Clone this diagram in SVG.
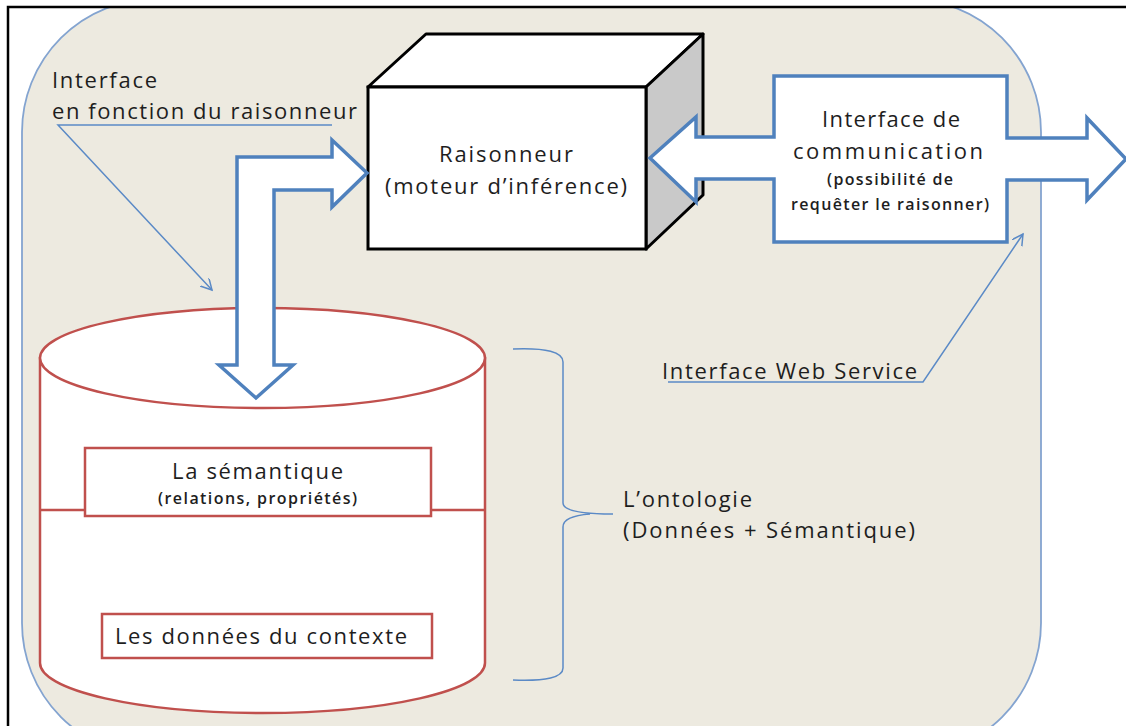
<svg xmlns="http://www.w3.org/2000/svg" width="1126" height="726" viewBox="0 0 1126 726">
<style>
text{font-family:"Open Sans","Liberation Sans",sans-serif;fill:#1e1e1e;}
.t{font-size:22px;}
.s{font-size:16px;font-weight:600;}
.thick{fill:#fff;stroke:#4F81BD;stroke-width:3.5;stroke-linejoin:miter;}
.red{fill:#fff;stroke:#C0504D;stroke-width:2.5;}
.call{fill:none;stroke:#5B8AC6;stroke-width:1.5;}
</style>
<defs>
<marker id="ah" markerUnits="userSpaceOnUse" markerWidth="14" markerHeight="14" refX="11" refY="6" orient="auto">
<path d="M0,0 L11,6 L0,12" fill="none" stroke="#5B8AC6" stroke-width="1.5"/>
</marker>
</defs>
<rect x="0" y="0" width="1126" height="726" fill="#fff"/>
<g id="background">
<rect x="22" y="-1" width="1019" height="757" rx="133" ry="133" fill="#EDEAE0" stroke="#84A4D0" stroke-width="1.8"/>
<rect x="0" y="0" width="1126" height="6" fill="#fff"/>
<path d="M8,726 L8,7 L1126,7" fill="none" stroke="#000" stroke-width="2.5"/>
</g>
<g id="ontologie">
<path class="red" d="M40,358 L40,663 A222.5,50 0 0 0 485,663 L485,358 Z"/>
<ellipse class="red" cx="262.5" cy="358" rx="222.5" ry="50"/>
<line x1="40" y1="510" x2="485" y2="510" stroke="#C0504D" stroke-width="2.5"/>
</g>
<g id="semantique">
<rect class="red" x="85" y="448" width="346" height="68"/>
<text class="t" x="172" y="479" textLength="171" lengthAdjust="spacing">La sémantique</text>
<text class="s" x="158" y="504" textLength="199" lengthAdjust="spacing">(relations, propriétés)</text>
</g>
<g id="donnees">
<rect class="red" x="102" y="614" width="330" height="44"/>
<text class="t" x="115" y="644" textLength="292" lengthAdjust="spacing">Les données du contexte</text>
</g>
<g id="raisonneur">
<polygon points="368,87 426,34 703,34 646,87" fill="#fff" stroke="#000" stroke-width="3" stroke-linejoin="round"/>
<polygon points="646,87 703,34 703,195 646,249" fill="#C9C9C9" stroke="#000" stroke-width="3" stroke-linejoin="round"/>
<rect x="368" y="87" width="278" height="162" fill="#fff" stroke="#000" stroke-width="3"/>
<text class="t" x="439" y="162" textLength="134" lengthAdjust="spacing">Raisonneur</text>
<text class="t" x="385" y="194" textLength="242" lengthAdjust="spacing">(moteur d’inférence)</text>
</g>
<g id="connectors">
<polygon class="thick" points="237,365 237,157 332,157 332,140 367,173 332,207 332,190 274,190 274,365 293,365 256,398 219,365"/>
<path class="call" d="M332,125 L58,125 L212,290" marker-end="url(#ah)"/>
<path class="call" d="M668,382 L923,382 L1023,234" marker-end="url(#ah)"/>
<path class="call" d="M513,349 Q563,347 563,362 L563,503 Q563,514 613,514 M590,514 Q563,516 563,527 L563,668 Q563,682 513,680"/>
</g>
<g id="communication">
<polygon class="thick" points="650,158 696,117 696,137 774,137 774,76 1007,76 1007,138 1087,138 1087,118 1126,159 1087,200 1087,180 1007,180 1007,242 774,242 774,179 696,179 696,202"/>
<text class="t" x="822" y="127" textLength="138" lengthAdjust="spacing">Interface de</text>
<text class="t" x="793" y="159" textLength="190" lengthAdjust="spacing">communication</text>
<text class="s" x="827" y="185" textLength="126" lengthAdjust="spacing">(possibilité de</text>
<text class="s" x="791" y="210" textLength="198" lengthAdjust="spacing">requêter le raisonner)</text>
</g>
<g id="labels">
<text class="t" x="52" y="88" textLength="105" lengthAdjust="spacing">Interface</text>
<text class="t" x="52" y="119" textLength="305" lengthAdjust="spacing">en fonction du raisonneur</text>
<text class="t" x="662" y="379" textLength="255" lengthAdjust="spacing">Interface Web Service</text>
<text class="t" x="623" y="507" textLength="129" lengthAdjust="spacing">L’ontologie</text>
<text class="t" x="623" y="538" textLength="292" lengthAdjust="spacing">(Données + Sémantique)</text>
</g>
</svg>
